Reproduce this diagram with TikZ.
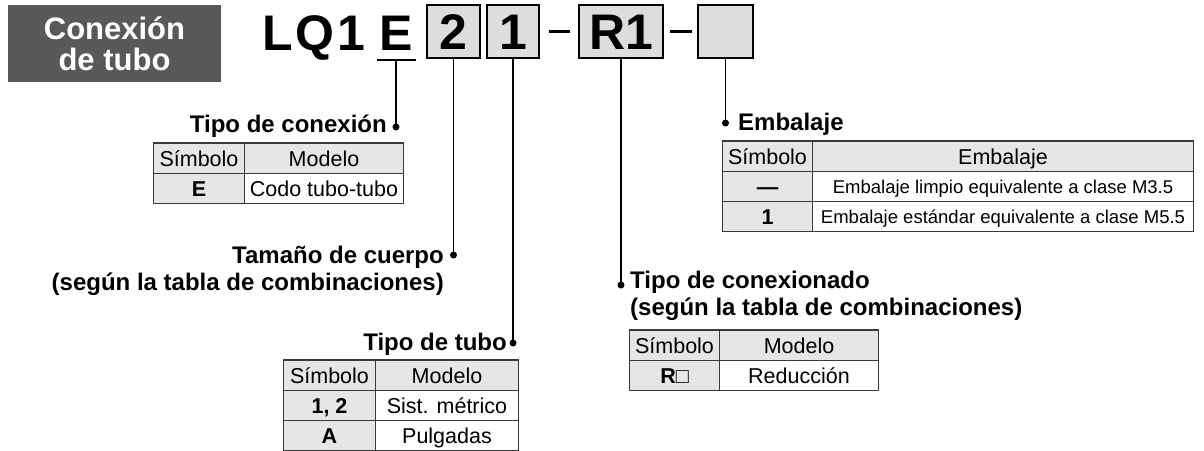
\documentclass[tikz,border=0pt]{standalone}
\usepackage{fontspec}
\setmainfont{Liberation Sans}
\usetikzlibrary{positioning}
\definecolor{titlegray}{HTML}{58595B}
\definecolor{cellgray}{HTML}{E6E6E6}
\definecolor{boxgray}{HTML}{DCDDDE}
\definecolor{rulegray}{HTML}{3A3A3A}
\tikzset{
  codebox/.style={draw=black,line width=1.5pt,fill=boxgray,inner sep=0pt,
    minimum height=53pt,text height=35pt,text depth=0pt,
    font=\fontsize{50}{50}\bfseries\selectfont},
  calllabel/.style={font=\fontsize{24}{27}\bfseries\selectfont,inner sep=0pt},
  leaddot/.style={circle,fill=black,inner sep=0pt,minimum size=7pt},
  lead/.style={line width=1.4pt},
  headcell/.style={draw=rulegray,line width=1pt,fill=cellgray,anchor=north west,
    inner sep=0pt,minimum height=30pt,text height=15.5pt,text depth=0pt,
    font=\fontsize{21.5}{22}\selectfont},
  symcell/.style={headcell,font=\fontsize{21.5}{22}\bfseries\selectfont},
  textcell/.style={headcell,fill=white},
  smallcell/.style={textcell,text height=13.3pt,font=\fontsize{18.5}{19}\selectfont},
  topline/.style={draw=rulegray,line width=2pt}
}

\begin{document}
\begin{tikzpicture}[x=1pt,y=-1pt]
  \useasboundingbox (0,0) rectangle (1204,450);

  % title and code
  \node[fill=titlegray,text=white,minimum width=213pt,minimum height=77pt,
    align=center,font=\fontsize{31}{31}\bfseries\selectfont] (title)
    at (114.5,43.5) {Conexión\\de tubo};
  \node[anchor=base west,inner sep=0pt,font=\fontsize{50}{50}\bfseries\selectfont]
    (series) at (262,50) {L\kern3pt Q\kern3pt 1};
  \node[anchor=base,inner sep=0pt,font=\fontsize{50}{50}\bfseries\selectfont]
    (codeE) at (396.5,50) {E};
  \coordinate (eline) at (396,60);
  \draw[line width=2pt] (377,60) -- (416,60);

  \node[codebox,minimum width=53pt] (boxsize) at (453.5,31.5) {2};
  \node[codebox,minimum width=52pt] (boxtube) at (513,31.5) {1};
  \node[codebox,minimum width=84pt] (boxconn) at (621,31.5) {R1};
  \node[codebox,minimum width=55pt] (boxpack) at (725.5,31.5) {};
  \draw[line width=3pt,shorten <=9pt,shorten >=8pt] (boxtube.east) -- (boxconn.west);
  \draw[line width=3pt,shorten <=6pt,shorten >=5pt] (boxconn.east) -- (boxpack.west);

  % Tipo de conexion
  \node[leaddot] (typedot) at (396,127) {};
  \draw[lead] (eline) -- (typedot.center);
  \node[calllabel,anchor=base east] (typelbl) at (387,132) {Tipo de conexión};
  \node[headcell,minimum width=91pt] (typeh1) at (153,143) {Símbolo};
  \node[headcell,minimum width=159pt] (typeh2) at (244,143) {Modelo};
  \node[symcell,minimum width=91pt] (typer1) at (153,173) {E};
  \node[textcell,minimum width=159pt] (typer2) at (244,173) {Codo tubo-tubo};
  \draw[topline] (typeh1.north west) -- (typeh2.north east);

  % Tamano de cuerpo
  \node[leaddot] (sizedot) at (453.5,255) {};
  \draw[lead] (boxsize.south) -- (sizedot.center);
  \node[calllabel,anchor=base east,align=right] (sizelbl) at (444,290)
    {Tamaño de cuerpo\\(según la tabla de combinaciones)};

  % Tipo de tubo
  \node[leaddot] (tubedot) at (513,343) {};
  \draw[lead] (boxtube.south) -- (tubedot.center);
  \node[calllabel,anchor=base east] (tubelbl) at (507,350) {Tipo de tubo};
  \node[headcell,minimum width=92pt] (tubeh1) at (283,360) {Símbolo};
  \node[headcell,minimum width=143pt] (tubeh2) at (375,360) {Modelo};
  \node[symcell,minimum width=92pt] (tubea1) at (283,390) {1, 2};
  \node[textcell,minimum width=143pt] (tubea2) at (375,390) {Sist. métrico};
  \node[symcell,minimum width=92pt] (tubeb1) at (283,420) {A};
  \node[textcell,minimum width=143pt] (tubeb2) at (375,420) {Pulgadas};
  \draw[topline] (tubeh1.north west) -- (tubeh2.north east);

  % Tipo de conexionado
  \node[leaddot] (conndot) at (621,285) {};
  \draw[lead] (boxconn.south) -- (conndot.center);
  \node[calllabel,anchor=base west,align=left] (connlbl) at (630,315)
    {Tipo de conexionado\\(según la tabla de combinaciones)};
  \node[headcell,minimum width=90pt] (connh1) at (629,330) {Símbolo};
  \node[headcell,minimum width=159pt] (connh2) at (719,330) {Modelo};
  \node[symcell,minimum width=90pt] (connr1) at (629,360) {R\mdseries□};
  \node[textcell,minimum width=159pt] (connr2) at (719,360) {Reducción};
  \draw[topline] (connh1.north west) -- (connh2.north east);

  % Embalaje
  \node[leaddot] (packdot) at (725.5,123) {};
  \draw[lead] (boxpack.south) -- (packdot.center);
  \node[calllabel,anchor=base west] (packlbl) at (738,130) {Embalaje};
  \node[headcell,minimum width=90pt] (packh1) at (722,141) {Símbolo};
  \node[headcell,minimum width=381pt] (packh2) at (812,141) {Embalaje};
  \node[symcell,minimum width=90pt] (packa1) at (722,171) {—};
  \node[smallcell,minimum width=381pt] (packa2) at (812,171)
    {Embalaje limpio equivalente a clase M3.5};
  \node[symcell,minimum width=90pt] (packb1) at (722,201) {1};
  \node[smallcell,minimum width=381pt] (packb2) at (812,201)
    {Embalaje estándar equivalente a clase M5.5};
  \draw[topline] (packh1.north west) -- (packh2.north east);
\end{tikzpicture}
\end{document}
